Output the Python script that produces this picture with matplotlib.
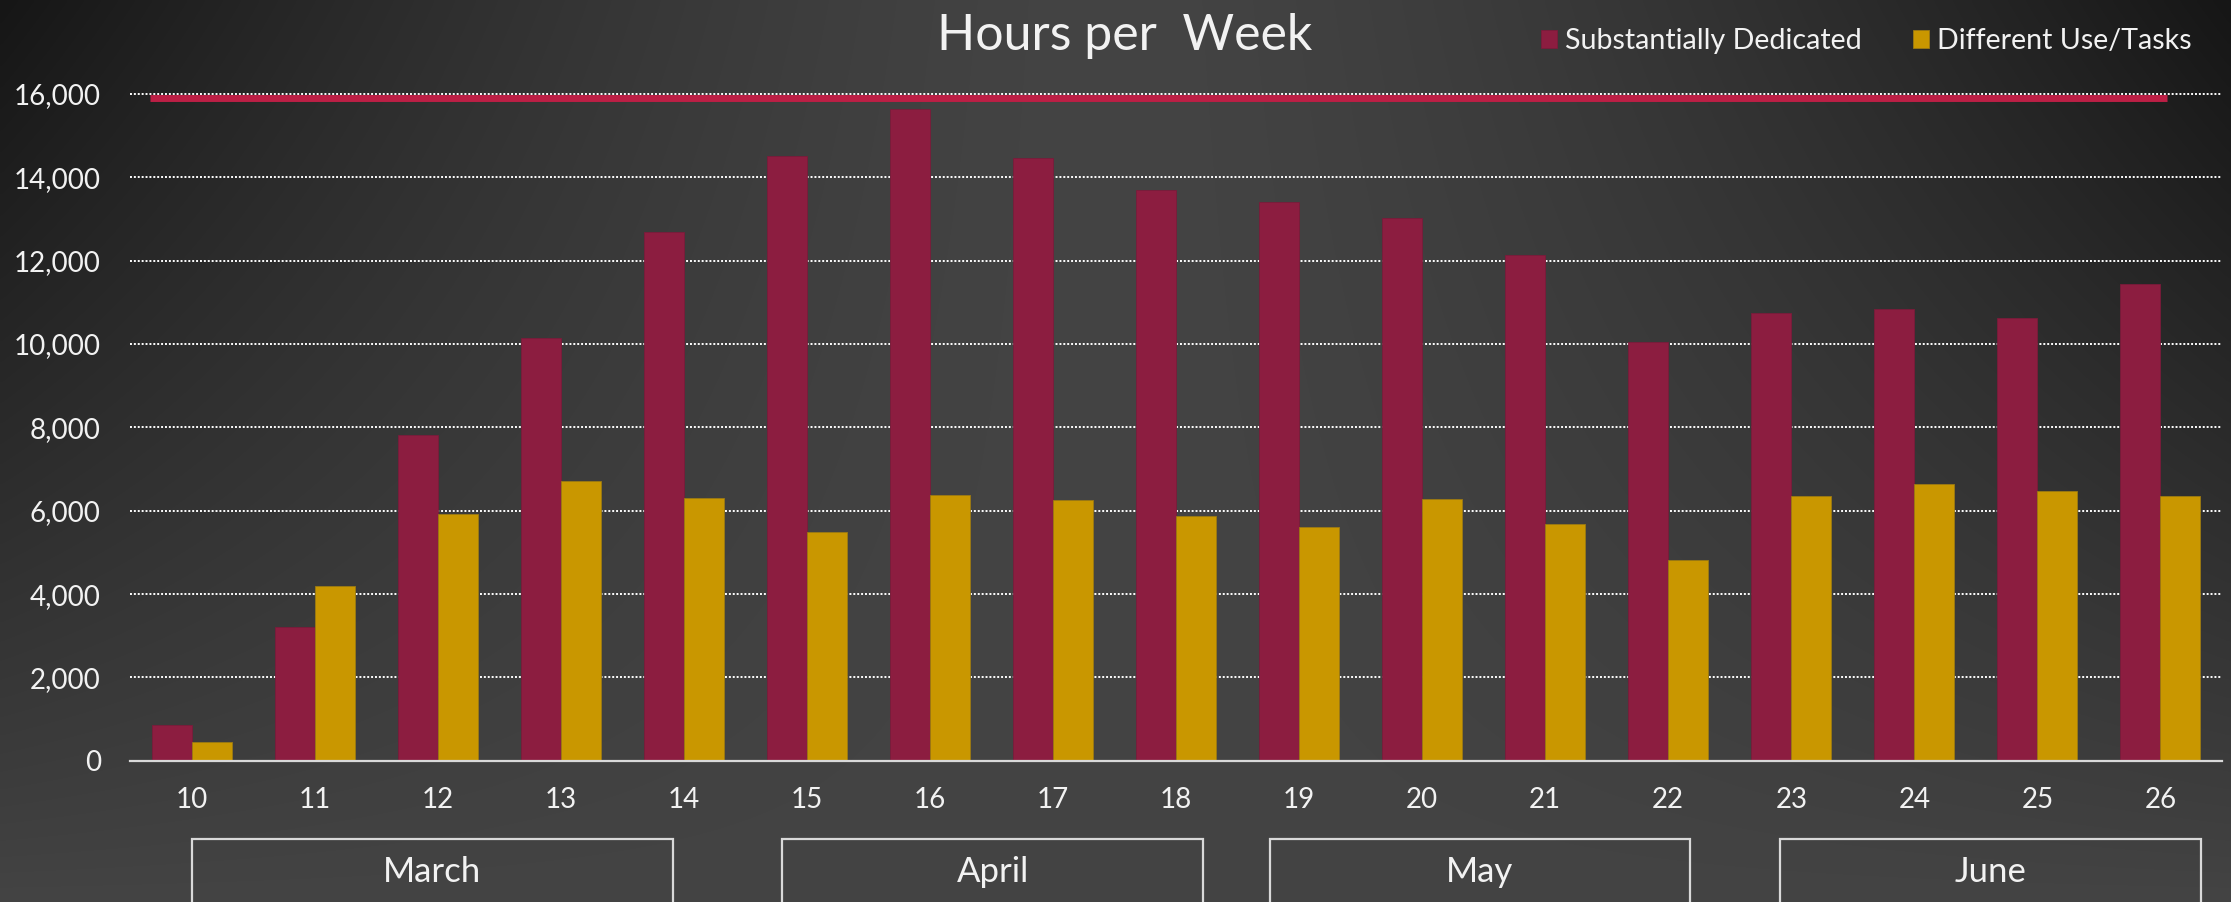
import numpy as np
import matplotlib
matplotlib.use("Agg")
import matplotlib.pyplot as plt
from matplotlib.patches import Rectangle
from matplotlib.transforms import blended_transform_factory
from matplotlib.ticker import StrMethodFormatter

plt.rcParams['font.family'] = ['Lato', 'DejaVu Sans']

# ---------------- data ----------------
weeks = ["10", "11", "12", "13", "14", "15", "16", "17", "18",
         "19", "20", "21", "22", "23", "24", "25", "26"]
substantially_dedicated = [850, 3200, 7820, 10150, 12690, 14500, 15640, 14450, 13700,
                           13400, 13020, 12130, 10040, 10750, 10840, 10610, 11440]
different_use = [460, 4200, 5910, 6700, 6300, 5490, 6370, 6250, 5870,
                 5610, 6270, 5690, 4810, 6360, 6640, 6460, 6350]
series_names = ["Substantially Dedicated", "Different Use/Tasks"]
target_value = 15910
target_span = (-0.34, 16.05)          # in category units
months = ["March", "April", "May", "June"]
month_spans = [(-0.0, 3.91), (4.80, 8.22), (8.76, 12.18), (12.91, 16.33)]
title = "Hours per  Week"

# ---------------- style ----------------
RED = "#8C1D40"
GOLD = "#C99700"
LINE_RED = "#BC1F45"
TXT = "#F2F2F2"
W_PX, H_PX, DPI = 2231, 902, 100

fig = plt.figure(figsize=(W_PX / DPI, H_PX / DPI), dpi=DPI)

# background gradient
bg = fig.add_axes([0, 0, 1, 1], zorder=-10)
X = np.linspace(0, 1, 600)[None, :]
Y = np.linspace(0, 1, 300)[:, None]
b = 68 - 46 * (np.abs(X - 0.5) / 0.5) ** 1.5 * (1 - Y) ** 0.9
b = np.clip(b, 0, 255) / 255.0
img = np.dstack([b, b, b])
bg.imshow(img, aspect='auto', extent=[0, 1, 0, 1], origin='upper', interpolation='bicubic')
bg.set_axis_off()

# main axes: x 130..2222 px, y zero at 760.8 px
ymax = 16200
y0_px = 760.8
px_per_unit = (760.8 - 93.8) / 16000
ytop_px = y0_px - ymax * px_per_unit
ax = fig.add_axes([130 / W_PX, (H_PX - y0_px) / H_PX,
                   (2222 - 130) / W_PX, (y0_px - ytop_px) / H_PX])
ax.set_facecolor('none')

x = np.arange(len(weeks))
w = 0.325
b1 = ax.bar(x - w / 2, substantially_dedicated, w, color=RED, edgecolor="#7A1B3A",
            linewidth=0.6, label=series_names[0], zorder=3)
b2 = ax.bar(x + w / 2, different_use, w, color=GOLD, edgecolor="#9C7A12",
            linewidth=0.6, label=series_names[1], zorder=3)

ax.plot(list(target_span), [target_value, target_value], color=LINE_RED, lw=5.0,
        solid_capstyle='butt', zorder=4)

ax.set_xlim(-0.5, len(weeks) - 0.5)
ax.set_ylim(0, ymax)
ax.set_yticks(np.arange(0, 16001, 2000))
ax.yaxis.set_major_formatter(StrMethodFormatter('{x:,.0f}'))
ax.set_xticks(x)
ax.set_xticklabels(weeks)
ax.tick_params(axis='both', length=0, colors=TXT, labelsize=20)
ax.tick_params(axis='y', pad=21)
ax.tick_params(axis='x', pad=19)
ax.yaxis.grid(True, color='white', linestyle=(0, (1, 1)), lw=1.4, zorder=1)
ax.set_axisbelow(True)
for s in ['top', 'right', 'left']:
    ax.spines[s].set_visible(False)
ax.spines['bottom'].set_color('#D9D9D9')
ax.spines['bottom'].set_linewidth(1.6)
ax.spines['bottom'].set_zorder(5)

# month boxes
trans = blended_transform_factory(ax.transData, fig.transFigure)
box_top = (H_PX - 839) / H_PX
for name, (s, e) in zip(months, month_spans):
    ax.add_patch(Rectangle((s, -0.05), e - s, box_top + 0.05, transform=trans,
                           facecolor='none', edgecolor='#D9D9D9', lw=1.6, clip_on=False))
    ax.text((s + e) / 2, (H_PX - 872) / H_PX, name, transform=trans, ha='center',
            va='center', color=TXT, fontsize=25)

# title
fig.text(1125 / W_PX, (H_PX - 50) / H_PX, title, ha='center', va='baseline',
         color=TXT, fontsize=36)

# legend
fig.legend(handles=[b1, b2], loc='center left',
           bbox_to_anchor=(1541 / W_PX, (H_PX - 41) / H_PX), ncol=2, frameon=False,
           fontsize=20.6, labelcolor=TXT, handlelength=0.56, handleheight=0.59,
           handletextpad=0.28, columnspacing=1.8, borderpad=0, borderaxespad=0)

fig.savefig("out.png", dpi=DPI)
